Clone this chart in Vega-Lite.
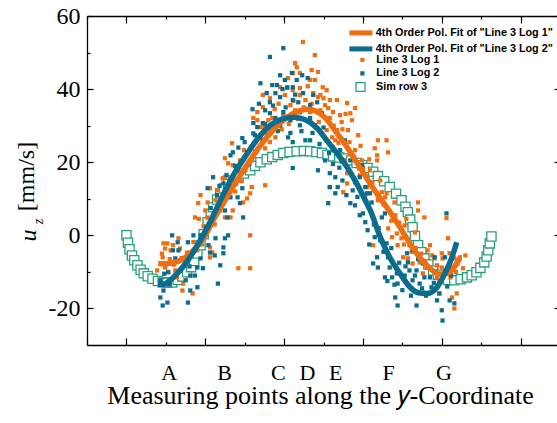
{
"$schema": "https://vega.github.io/schema/vega-lite/v6.json",
"width": 473, "height": 329,
"autosize": {"type": "none"},
"padding": {"left": 87, "top": 16, "right": 0, "bottom": 78},
"background": "white",
"config": {"view": {"stroke": null}, "axis": {"grid": false, "labelColor": "black", "titleColor": "black", "domainColor": "black", "tickColor": "black", "labelFont": "Liberation Serif", "titleFont": "Liberation Serif", "titleFontWeight": "normal", "domainWidth": 1.3, "tickWidth": 1.2},
  "legend": {"orient": "none", "padding": 0, "labelFont": "Liberation Sans", "labelFontWeight": "bold", "labelFontSize": 10.8, "labelColor": "black", "labelLimit": 400, "symbolOpacity": 1, "rowPadding": 1}},
"datasets": {
"sim": [{"x":0,"y":0},{"x":0.02,"y":-2.0},{"x":0.04,"y":-3.8},{"x":0.07,"y":-5.5},{"x":0.10,"y":-6.8},{"x":0.14,"y":-8.2},{"x":0.18,"y":-9.4},{"x":0.22,"y":-10.4},{"x":0.27,"y":-11.2},{"x":0.33,"y":-11.9},{"x":0.40,"y":-12.5},{"x":0.46,"y":-12.9},{"x":0.52,"y":-13.0},{"x":0.58,"y":-12.9},{"x":0.65,"y":-12.2},{"x":0.71,"y":-11.3},{"x":0.77,"y":-10.1},{"x":0.82,"y":-8.7},{"x":0.86,"y":-7.0},{"x":0.90,"y":-5.0},{"x":0.94,"y":-2.7},{"x":0.98,"y":0.3},{"x":1.03,"y":3.6},{"x":1.07,"y":5.8},{"x":1.10,"y":7.7},{"x":1.15,"y":9.8},{"x":1.19,"y":11.5},{"x":1.24,"y":12.9},{"x":1.29,"y":14.0},{"x":1.35,"y":15.0},{"x":1.42,"y":15.9},{"x":1.49,"y":16.9},{"x":1.57,"y":17.8},{"x":1.63,"y":19.0},{"x":1.70,"y":20.0},{"x":1.78,"y":20.8},{"x":1.85,"y":21.4},{"x":1.92,"y":22.0},{"x":1.99,"y":22.5},{"x":2.07,"y":22.8},{"x":2.16,"y":23.0},{"x":2.25,"y":23.1},{"x":2.33,"y":23.0},{"x":2.41,"y":22.8},{"x":2.48,"y":22.5},{"x":2.55,"y":22.0},{"x":2.62,"y":21.6},{"x":2.70,"y":21.3},{"x":2.77,"y":21.0},{"x":2.85,"y":20.5},{"x":2.92,"y":19.8},{"x":2.99,"y":19.2},{"x":3.06,"y":18.4},{"x":3.13,"y":17.4},{"x":3.19,"y":16.2},{"x":3.27,"y":14.8},{"x":3.34,"y":13.2},{"x":3.42,"y":11.4},{"x":3.49,"y":9.6},{"x":3.54,"y":7.8},{"x":3.57,"y":6.3},{"x":3.60,"y":4.3},{"x":3.63,"y":2.2},{"x":3.66,"y":-0.2},{"x":3.70,"y":-2.7},{"x":3.74,"y":-4.6},{"x":3.78,"y":-6.3},{"x":3.83,"y":-8.0},{"x":3.89,"y":-9.6},{"x":3.95,"y":-10.8},{"x":4.01,"y":-11.8},{"x":4.08,"y":-12.2},{"x":4.16,"y":-12.3},{"x":4.24,"y":-12.0},{"x":4.32,"y":-11.5},{"x":4.38,"y":-10.9},{"x":4.44,"y":-10.1},{"x":4.49,"y":-8.9},{"x":4.54,"y":-7.4},{"x":4.57,"y":-5.8},{"x":4.59,"y":-4.1},{"x":4.61,"y":-2.2},{"x":4.63,"y":-0.3}],
"log1": [{"x":1.34,"y":25.2},{"x":1.25,"y":21.1},{"x":1.29,"y":19.7},{"x":1.35,"y":19.2},{"x":1.22,"y":15.6},{"x":1.25,"y":15.9},{"x":1.06,"y":12.9},{"x":0.94,"y":11.0},{"x":1.03,"y":9.0},{"x":0.91,"y":8.8},{"x":1.00,"y":6.8},{"x":0.87,"y":4.9},{"x":0.92,"y":4.5},{"x":1.03,"y":4.9},{"x":1.25,"y":4.9},{"x":1.32,"y":4.9},{"x":1.19,"y":6.8},{"x":1.35,"y":6.8},{"x":1.48,"y":9.0},{"x":1.53,"y":10.1},{"x":1.57,"y":11.5},{"x":1.57,"y":0.0},{"x":0.47,"y":-2.2},{"x":0.52,"y":-2.2},{"x":0.49,"y":-3.6},{"x":0.56,"y":-4.1},{"x":0.59,"y":-2.7},{"x":0.68,"y":-3.6},{"x":0.77,"y":-4.7},{"x":0.90,"y":-4.1},{"x":1.06,"y":-3.3},{"x":0.46,"y":-6.0},{"x":0.43,"y":-7.7},{"x":0.49,"y":-8.8},{"x":0.72,"y":-13.2},{"x":0.71,"y":-15.1},{"x":0.84,"y":-15.9},{"x":1.06,"y":-6.0},{"x":1.09,"y":-4.7},{"x":1.42,"y":-9.0},{"x":1.57,"y":-9.0},{"x":2.24,"y":52.9},{"x":2.39,"y":49.3},{"x":2.14,"y":47.1},{"x":2.16,"y":46.0},{"x":2.35,"y":45.2},{"x":2.11,"y":44.4},{"x":2.20,"y":44.4},{"x":2.05,"y":43.0},{"x":2.43,"y":44.7},{"x":2.33,"y":42.5},{"x":2.39,"y":42.5},{"x":2.49,"y":40.5},{"x":1.95,"y":40.5},{"x":2.04,"y":40.3},{"x":2.54,"y":39.7},{"x":2.11,"y":39.7},{"x":2.43,"y":37.8},{"x":2.58,"y":37.0},{"x":2.67,"y":37.0},{"x":2.80,"y":36.2},{"x":2.52,"y":35.6},{"x":1.73,"y":38.4},{"x":1.82,"y":37.5},{"x":1.73,"y":35.1},{"x":1.66,"y":33.7},{"x":1.61,"y":32.1},{"x":2.46,"y":34.2},{"x":2.62,"y":33.7},{"x":2.71,"y":32.9},{"x":2.90,"y":34.8},{"x":2.84,"y":33.4},{"x":2.86,"y":31.5},{"x":2.58,"y":32.1},{"x":2.73,"y":31.0},{"x":2.54,"y":28.8},{"x":2.67,"y":28.8},{"x":2.61,"y":26.8},{"x":2.65,"y":26.0},{"x":1.82,"y":28.8},{"x":1.78,"y":27.9},{"x":1.89,"y":26.8},{"x":1.82,"y":25.5},{"x":1.76,"y":23.8},{"x":1.66,"y":31.5},{"x":1.70,"y":29.6},{"x":3.15,"y":23.8},{"x":2.81,"y":28.8},{"x":2.94,"y":27.4},{"x":3.18,"y":20.5},{"x":1.76,"y":13.7},{"x":1.59,"y":13.2},{"x":2.62,"y":24.1},{"x":2.84,"y":22.5},{"x":2.80,"y":17.0},{"x":3.05,"y":13.2},{"x":3.06,"y":15.9},{"x":2.80,"y":14.2},{"x":2.75,"y":11.8},{"x":2.58,"y":13.2},{"x":3.19,"y":26.0},{"x":3.30,"y":26.0},{"x":3.32,"y":22.7},{"x":3.18,"y":21.9},{"x":3.18,"y":11.5},{"x":3.24,"y":11.8},{"x":3.30,"y":11.5},{"x":3.19,"y":9.6},{"x":3.28,"y":10.4},{"x":3.70,"y":9.0},{"x":3.70,"y":6.8},{"x":3.78,"y":4.9},{"x":3.32,"y":1.9},{"x":3.37,"y":-0.5},{"x":3.43,"y":0.5},{"x":3.49,"y":-0.8},{"x":3.44,"y":-2.7},{"x":3.13,"y":-2.7},{"x":4.08,"y":-0.8},{"x":4.06,"y":4.7},{"x":3.85,"y":-2.7},{"x":3.82,"y":-4.1},{"x":4.00,"y":-4.9},{"x":4.01,"y":-6.3},{"x":3.91,"y":-6.3},{"x":4.10,"y":-4.9},{"x":4.16,"y":-6.3},{"x":4.20,"y":-7.7},{"x":4.23,"y":-6.0},{"x":3.51,"y":-6.0},{"x":3.57,"y":-6.3},{"x":3.63,"y":-7.7},{"x":3.72,"y":-7.4},{"x":3.81,"y":-8.8},{"x":3.94,"y":-8.2},{"x":4.00,"y":-8.8},{"x":4.13,"y":-8.8},{"x":3.76,"y":-10.4},{"x":3.94,"y":-11.5},{"x":4.19,"y":-15.9},{"x":4.13,"y":-17.0},{"x":4.16,"y":-20.0},{"x":3.97,"y":-15.9},{"x":2.20,"y":38.4},{"x":2.27,"y":37.0},{"x":2.08,"y":35.6},{"x":2.33,"y":33.7},{"x":1.99,"y":32.9},{"x":2.20,"y":40.3},{"x":2.46,"y":38.4},{"x":2.01,"y":38.4},{"x":2.14,"y":34.2},{"x":2.37,"y":38.9},{"x":1.44,"y":20.5},{"x":1.51,"y":17.8},{"x":1.41,"y":15.1},{"x":1.13,"y":9.6},{"x":1.16,"y":12.3},{"x":1.59,"y":20.5},{"x":1.49,"y":23.3},{"x":1.72,"y":26.0},{"x":1.92,"y":30.1},{"x":1.85,"y":32.1},{"x":2.90,"y":23.3},{"x":2.99,"y":20.5},{"x":2.77,"y":20.5},{"x":3.09,"y":17.8},{"x":2.96,"y":16.4},{"x":3.03,"y":11.0},{"x":0.39,"y":-9.6},{"x":4.27,"y":-9.0},{"x":4.30,"y":-5.5},{"x":3.41,"y":5.5},{"x":3.53,"y":2.7},{"x":3.59,"y":-2.7},{"x":3.66,"y":0.8},{"x":0.66,"y":-0.8},{"x":0.75,"y":-7.4},{"x":0.62,"y":-9.6},
{"x":1.12,"y":3.0},{"x":1.18,"y":8.0},{"x":1.28,"y":10.5},{"x":1.38,"y":12.0},{"x":1.40,"y":17.5},{"x":1.46,"y":14.8},{"x":1.55,"y":19.5},{"x":1.63,"y":23.0},{"x":1.68,"y":27.0},{"x":1.75,"y":29.5},{"x":1.80,"y":31.5},{"x":1.88,"y":34.5},{"x":1.93,"y":36.0},{"x":1.97,"y":29.0},{"x":2.06,"y":30.5},{"x":2.12,"y":36.8},{"x":2.18,"y":31.8},{"x":2.25,"y":35.0},{"x":2.30,"y":40.8},{"x":2.35,"y":36.0},{"x":2.44,"y":31.0},{"x":2.50,"y":37.5},{"x":2.56,"y":34.8},{"x":2.63,"y":30.0},{"x":2.69,"y":25.3},{"x":2.74,"y":29.0},{"x":2.78,"y":33.2},{"x":2.83,"y":25.5},{"x":2.88,"y":21.5},{"x":2.97,"y":24.5},{"x":3.00,"y":18.5},{"x":3.08,"y":20.8},{"x":3.12,"y":14.5},{"x":3.22,"y":15.0},{"x":3.26,"y":8.5},{"x":3.36,"y":4.0},{"x":3.40,"y":9.0},{"x":3.46,"y":3.5},{"x":3.52,"y":-2.5},{"x":3.55,"y":4.5},{"x":3.62,"y":-4.5},{"x":3.67,"y":-3.5},{"x":3.74,"y":-5.0},{"x":3.79,"y":-7.2},{"x":3.88,"y":-5.5},{"x":3.92,"y":-9.8},{"x":4.03,"y":-9.5},{"x":4.11,"y":-11.5},{"x":4.18,"y":-10.0},{"x":0.55,"y":-6.5},{"x":0.60,"y":-8.0},{"x":0.70,"y":-6.2},{"x":0.80,"y":-5.8},{"x":0.85,"y":-1.8},{"x":0.96,"y":-2.5},{"x":0.98,"y":2.5},{"x":0.45,"y":-5.0},{"x":0.53,"y":-10.0},{"x":0.64,"y":-11.5}],
"log2": [{"x":1.61,"y":30.7},{"x":1.47,"y":26.6},{"x":1.35,"y":22.7},{"x":1.32,"y":21.9},{"x":1.53,"y":22.7},{"x":1.63,"y":27.4},{"x":1.10,"y":15.9},{"x":1.23,"y":14.2},{"x":1.03,"y":12.9},{"x":1.15,"y":11.0},{"x":1.47,"y":12.9},{"x":1.41,"y":10.4},{"x":1.32,"y":10.4},{"x":1.44,"y":8.8},{"x":1.25,"y":6.8},{"x":1.28,"y":4.9},{"x":1.48,"y":4.9},{"x":0.58,"y":0.0},{"x":0.85,"y":0.0},{"x":0.94,"y":0.0},{"x":1.29,"y":0.0},{"x":1.13,"y":-0.8},{"x":1.25,"y":-0.8},{"x":0.65,"y":-1.9},{"x":0.78,"y":-1.9},{"x":1.04,"y":-2.7},{"x":1.23,"y":-3.3},{"x":0.59,"y":-4.1},{"x":0.66,"y":-4.1},{"x":1.06,"y":-4.7},{"x":1.23,"y":-4.9},{"x":0.62,"y":-6.3},{"x":0.72,"y":-6.3},{"x":0.59,"y":-7.7},{"x":0.90,"y":-8.8},{"x":1.19,"y":-8.2},{"x":0.81,"y":-11.0},{"x":0.87,"y":-11.0},{"x":0.53,"y":-10.1},{"x":1.16,"y":-13.2},{"x":0.90,"y":-14.2},{"x":0.47,"y":-15.1},{"x":0.81,"y":-15.1},{"x":0.43,"y":-17.0},{"x":0.52,"y":-18.4},{"x":0.46,"y":-19.2},{"x":0.78,"y":-18.4},{"x":1.99,"y":51.2},{"x":1.82,"y":48.8},{"x":2.10,"y":44.4},{"x":2.23,"y":43.8},{"x":1.95,"y":43.8},{"x":2.01,"y":42.5},{"x":2.16,"y":42.5},{"x":2.30,"y":43.0},{"x":1.85,"y":41.1},{"x":1.91,"y":41.1},{"x":2.04,"y":40.5},{"x":2.11,"y":40.5},{"x":1.70,"y":41.6},{"x":1.78,"y":38.9},{"x":1.89,"y":38.9},{"x":1.95,"y":37.8},{"x":2.24,"y":38.9},{"x":2.37,"y":38.4},{"x":2.11,"y":37.0},{"x":2.18,"y":36.4},{"x":1.82,"y":36.4},{"x":2.33,"y":35.6},{"x":2.42,"y":36.4},{"x":2.48,"y":33.4},{"x":1.99,"y":33.7},{"x":1.61,"y":27.9},{"x":1.70,"y":26.8},{"x":1.73,"y":30.7},{"x":1.66,"y":29.6},{"x":1.82,"y":33.4},{"x":2.05,"y":26.8},{"x":2.11,"y":25.5},{"x":2.27,"y":26.0},{"x":2.33,"y":26.0},{"x":2.52,"y":20.5},{"x":2.11,"y":18.4},{"x":2.43,"y":17.8},{"x":2.58,"y":17.0},{"x":2.65,"y":15.9},{"x":2.58,"y":13.2},{"x":2.68,"y":13.2},{"x":2.65,"y":11.5},{"x":2.87,"y":12.3},{"x":2.90,"y":14.5},{"x":2.96,"y":15.9},{"x":3.03,"y":13.2},{"x":2.56,"y":8.8},{"x":2.84,"y":8.8},{"x":3.05,"y":11.5},{"x":2.99,"y":19.2},{"x":4.06,"y":6.0},{"x":3.09,"y":11.5},{"x":3.11,"y":9.0},{"x":3.24,"y":4.9},{"x":3.28,"y":6.0},{"x":3.15,"y":-0.5},{"x":3.22,"y":-1.4},{"x":3.30,"y":-2.2},{"x":3.18,"y":-6.0},{"x":3.13,"y":-7.7},{"x":3.19,"y":-8.8},{"x":3.32,"y":-6.0},{"x":3.34,"y":-8.8},{"x":3.38,"y":-7.4},{"x":3.28,"y":-11.5},{"x":3.37,"y":-11.5},{"x":3.43,"y":-10.4},{"x":3.44,"y":-13.2},{"x":3.53,"y":-11.0},{"x":3.59,"y":-9.6},{"x":3.68,"y":-9.6},{"x":3.63,"y":-12.3},{"x":3.78,"y":-11.5},{"x":3.72,"y":-13.2},{"x":3.87,"y":-14.2},{"x":3.97,"y":-15.9},{"x":3.94,"y":-17.8},{"x":4.10,"y":-17.8},{"x":3.41,"y":-17.0},{"x":3.44,"y":-19.2},{"x":3.68,"y":-19.2},{"x":4.01,"y":-23.3},{"x":3.56,"y":-4.9},{"x":3.63,"y":-4.1},{"x":3.57,"y":-7.4},{"x":3.76,"y":-7.7},{"x":3.91,"y":-6.0},{"x":4.04,"y":-6.0},{"x":4.10,"y":-7.7},{"x":1.76,"y":34.2},{"x":1.89,"y":32.1},{"x":2.20,"y":33.7},{"x":2.08,"y":31.5},{"x":2.33,"y":32.1},{"x":1.95,"y":30.1},{"x":2.20,"y":30.1},{"x":2.39,"y":30.1},{"x":2.77,"y":26.0},{"x":2.84,"y":20.5},{"x":2.71,"y":23.3},{"x":2.96,"y":5.5},{"x":3.03,"y":3.6},{"x":3.06,"y":1.4},{"x":2.90,"y":8.2},{"x":4.16,"y":-18.6},{"x":0.43,"y":-12.3},{"x":0.75,"y":-12.3},{"x":0.94,"y":-6.3},
{"x":0.48,"y":-10.5},{"x":0.55,"y":-13.5},{"x":0.62,"y":-11.0},{"x":0.68,"y":-9.5},{"x":0.74,"y":-7.0},{"x":0.80,"y":-8.5},{"x":0.88,"y":-3.5},{"x":0.97,"y":-9.0},{"x":1.01,"y":2.0},{"x":1.07,"y":7.5},{"x":1.12,"y":-5.5},{"x":1.18,"y":13.5},{"x":1.27,"y":16.5},{"x":1.33,"y":13.0},{"x":1.38,"y":19.0},{"x":1.42,"y":24.0},{"x":1.50,"y":25.5},{"x":1.56,"y":19.5},{"x":1.60,"y":34.5},{"x":1.68,"y":36.0},{"x":1.76,"y":30.5},{"x":1.86,"y":35.5},{"x":1.92,"y":28.5},{"x":1.98,"y":40.0},{"x":2.02,"y":35.0},{"x":2.08,"y":28.0},{"x":2.14,"y":38.5},{"x":2.22,"y":28.5},{"x":2.28,"y":34.5},{"x":2.36,"y":28.0},{"x":2.45,"y":25.0},{"x":2.50,"y":29.5},{"x":2.57,"y":22.5},{"x":2.62,"y":19.5},{"x":2.70,"y":18.5},{"x":2.74,"y":15.0},{"x":2.79,"y":11.0},{"x":2.86,"y":16.5},{"x":2.93,"y":10.5},{"x":3.00,"y":6.0},{"x":3.08,"y":-2.5},{"x":3.14,"y":3.0},{"x":3.20,"y":2.0},{"x":3.26,"y":-4.5},{"x":3.31,"y":-12.5},{"x":3.36,"y":-3.5},{"x":3.40,"y":-13.5},{"x":3.46,"y":-7.5},{"x":3.50,"y":-15.0},{"x":3.54,"y":-8.5},{"x":3.61,"y":-16.5},{"x":3.66,"y":-11.0},{"x":3.70,"y":-6.5},{"x":3.75,"y":-14.5},{"x":3.80,"y":-16.5},{"x":3.85,"y":-11.5},{"x":3.90,"y":-13.0},{"x":3.99,"y":-12.5},{"x":4.07,"y":-14.0},{"x":4.12,"y":-11.0},{"x":4.00,"y":-20.5}],
"fit1": [{"x":0.41,"y":-7.7},{"x":0.47,"y":-7.8},{"x":0.53,"y":-7.7},{"x":0.65,"y":-7.2},{"x":0.75,"y":-6.0},{"x":0.87,"y":-3.6},{"x":1.00,"y":0.0},{"x":1.10,"y":4.1},{"x":1.23,"y":8.8},{"x":1.35,"y":13.2},{"x":1.48,"y":17.6},{"x":1.61,"y":21.8},{"x":1.70,"y":24.6},{"x":1.86,"y":28.8},{"x":2.04,"y":32.3},{"x":2.20,"y":34.1},{"x":2.30,"y":34.5},{"x":2.40,"y":34.0},{"x":2.52,"y":32.2},{"x":2.65,"y":28.6},{"x":2.80,"y":24.1},{"x":2.92,"y":20.0},{"x":3.05,"y":15.6},{"x":3.19,"y":11.0},{"x":3.34,"y":6.5},{"x":3.47,"y":2.2},{"x":3.59,"y":-2.0},{"x":3.72,"y":-6.0},{"x":3.85,"y":-9.0},{"x":3.97,"y":-10.6},{"x":4.08,"y":-10.4},{"x":4.16,"y":-8.6},{"x":4.23,"y":-6.2}],
"fit2": [{"x":0.40,"y":-13.4},{"x":0.47,"y":-13.4},{"x":0.58,"y":-11.8},{"x":0.71,"y":-8.8},{"x":0.84,"y":-4.9},{"x":0.96,"y":-0.5},{"x":1.09,"y":4.9},{"x":1.22,"y":10.8},{"x":1.35,"y":16.2},{"x":1.53,"y":22.3},{"x":1.70,"y":27.4},{"x":1.82,"y":30.0},{"x":1.99,"y":31.9},{"x":2.12,"y":32.3},{"x":2.27,"y":31.6},{"x":2.42,"y":29.3},{"x":2.54,"y":26.0},{"x":2.67,"y":22.5},{"x":2.80,"y":18.6},{"x":2.92,"y":14.2},{"x":3.03,"y":9.6},{"x":3.09,"y":7.0},{"x":3.22,"y":-0.5},{"x":3.34,"y":-6.0},{"x":3.47,"y":-10.4},{"x":3.59,"y":-14.0},{"x":3.72,"y":-15.8},{"x":3.82,"y":-15.9},{"x":3.94,"y":-14.2},{"x":4.04,"y":-10.4},{"x":4.13,"y":-6.0},{"x":4.19,"y":-1.9}]
},
"layer": [
{"data": {"name": "sim"},
 "mark": {"type": "point", "shape": "square", "filled": false, "fill": "white", "fillOpacity": 1, "size": 85, "strokeWidth": 1.3, "opacity": 1},
 "encoding": {
  "x": {"field": "x", "type": "quantitative", "scale": {"domain": [-0.5, 5.5], "nice": false, "zero": false},
        "axis": {"orient": "bottom", "values": [-0.5,0,0.5,1,1.5,2,2.5,3,3.5,4,4.5,5,5.5], "labels": false, "title": null,
                 "tickSize": {"condition": {"test": "datum.value % 1 === 0", "value": -7}, "value": -3}}},
  "y": {"field": "y", "type": "quantitative", "scale": {"domain": [-30, 60], "nice": false, "zero": false},
        "axis": {"orient": "left", "values": [-20,-10,0,10,20,30,40,50,60],
                 "labelExpr": "datum.value % 20 === 0 ? toString(datum.value) : ''",
                 "tickSize": {"condition": {"test": "datum.value % 20 === 0", "value": -6}, "value": -3},
                 "labelFontSize": 24, "labelPadding": 13,
                 "title": "[mm/s]", "titleFontSize": 24, "titleX": -54, "titleY": 160, "titleBaseline": "alphabetic", "titleAlign": "center", "titleAngle": 270}},
  "color": {"datum": "Sim row 3", "type": "nominal", "scale": {"domain": ["Sim row 3"], "range": ["#2A9E80"]},
            "legend": {"title": null, "legendX": 268, "legendY": 65.5, "symbolType": "square", "symbolSize": 80, "symbolStrokeWidth": 1.3, "symbolFillColor": "white", "labelOffset": 10}}
 }},
{"data": {"name": "log1"},
 "mark": {"type": "square", "size": 18, "opacity": 1},
 "encoding": {
  "x": {"field": "x", "type": "quantitative",
        "axis": {"orient": "top", "values": [-0.5,0,0.5,1,1.5,2,2.5,3,3.5,4,4.5,5,5.5], "labels": false, "title": null,
                 "tickSize": {"condition": {"test": "datum.value % 1 === 0", "value": -7}, "value": -3}}},
  "y": {"field": "y", "type": "quantitative",
        "axis": {"orient": "right", "values": [-20,-10,0,10,20,30,40,50,60], "labels": false, "title": null,
                 "tickSize": {"condition": {"test": "datum.value % 20 === 0", "value": -6}, "value": -3}}},
  "fill": {"datum": "Line 3 Log 1", "type": "nominal", "scale": {"domain": ["Line 3 Log 1", "Line 3 Log 2"], "range": ["#EF6E12", "#0A6D8D"]},
           "legend": {"title": null, "legendX": 270, "legendY": 38.5, "symbolType": "square", "symbolSize": 18, "symbolStrokeWidth": 0, "labelOffset": 8.5, "rowPadding": 1.5}}
 }},
{"data": {"name": "log2"},
 "mark": {"type": "square", "size": 18, "opacity": 1},
 "encoding": {
  "x": {"field": "x", "type": "quantitative",
        "axis": {"orient": "bottom", "values": [0.535, 1.24, 1.92, 2.29, 2.65, 3.32, 4.02], "ticks": false, "domain": false, "labelFlush": false,
                 "labelExpr": "datum.value < 0.9 ? 'A' : datum.value < 1.5 ? 'B' : datum.value < 2.1 ? 'C' : datum.value < 2.5 ? 'D' : datum.value < 3 ? 'E' : datum.value < 3.7 ? 'F' : 'G'",
                 "labelFontSize": 22, "labelPadding": 34, "labelBaseline": "alphabetic",
                 "title": "Measuring points along the 𝑦-Coordinate", "titleFontSize": 26, "titleX": 233, "titleY": 58, "titleBaseline": "alphabetic", "titleAlign": "center"}},
  "y": {"field": "y", "type": "quantitative",
        "axis": {"orient": "left", "labels": false, "ticks": false, "domain": false, "title": "z", "titleFontStyle": "italic", "titleFontSize": 14,
                 "titleX": -45, "titleY": 205, "titleBaseline": "alphabetic", "titleAlign": "center", "titleAngle": 270}},
  "fill": {"datum": "Line 3 Log 2", "type": "nominal"}
 }},
{"data": {"name": "fit1"},
 "mark": {"type": "line", "strokeWidth": 5.5, "interpolate": "monotone"},
 "encoding": {
  "x": {"field": "x", "type": "quantitative", "axis": null},
  "y": {"field": "y", "type": "quantitative",
        "axis": {"orient": "left", "labels": false, "ticks": false, "domain": false, "title": "u", "titleFontStyle": "italic", "titleFontSize": 24,
                 "titleX": -52, "titleY": 219, "titleBaseline": "alphabetic", "titleAlign": "center", "titleAngle": 270}},
  "stroke": {"datum": "4th Order Pol. Fit of \"Line 3 Log 1\"", "type": "nominal",
             "scale": {"domain": ["4th Order Pol. Fit of \"Line 3 Log 1\"", "4th Order Pol. Fit of \"Line 3 Log 2\""], "range": ["#EF6E12", "#0A6D8D"]},
             "legend": {"title": null, "legendX": 268.5, "legendY": 11.5, "symbolType": "M-5.75,0H5.75", "symbolSize": 16, "symbolStrokeWidth": 5, "labelOffset": 9.5, "rowPadding": -7.5}}
 }},
{"data": {"name": "fit2"},
 "mark": {"type": "line", "strokeWidth": 5.5, "interpolate": "monotone"},
 "encoding": {
  "x": {"field": "x", "type": "quantitative", "axis": null},
  "y": {"field": "y", "type": "quantitative", "axis": null},
  "stroke": {"datum": "4th Order Pol. Fit of \"Line 3 Log 2\"", "type": "nominal"}
 }}
],
"resolve": {"axis": {"x": "independent", "y": "independent"}}
}
